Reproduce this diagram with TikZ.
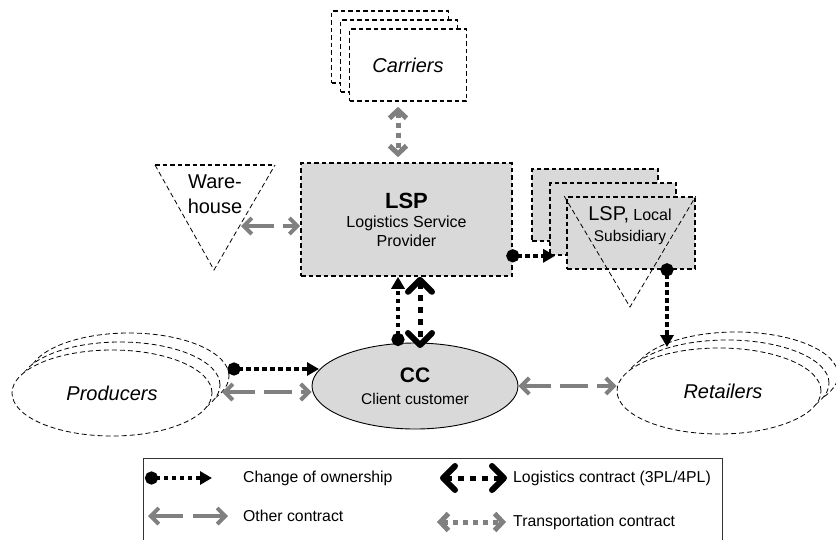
\documentclass[tikz,border=0pt]{standalone}
\usepackage{fontspec}
\setmainfont{Liberation Sans}
\usetikzlibrary{arrows.meta,shapes.geometric}
\definecolor{boxgray}{HTML}{D9D9D9}
\definecolor{arrgray}{HTML}{808080}
\tikzset{
 dbox/.style={rectangle, draw=black, line width=1.6pt, dash pattern=on 4.5pt off 3pt, inner sep=0pt},
 thind/.style={draw=black, line width=0.8pt, dash pattern=on 5pt off 3pt},
 ell/.style={ellipse, thind, fill=white, inner sep=0pt},
 owner/.style={draw=black, line width=4.5pt, dash pattern=on 4.5pt off 3.5pt, {Circle[length=13pt]}-{Triangle[length=12pt,width=13pt]}},
 other/.style={draw=arrgray, line width=4pt, dash pattern=on 28pt off 9pt, {Straight Barb[length=8pt,width=16pt]}-{Straight Barb[length=8pt,width=16pt]}},
 logi/.style={draw=black, line width=5pt, dash pattern=on 6pt off 6pt, {Straight Barb[length=12pt,width=24pt,line width=6pt,round]}-{Straight Barb[length=12pt,width=24pt,line width=6pt,round]}},
 transp/.style={draw=arrgray, line width=5pt, dash pattern=on 5pt off 5pt, {Straight Barb[length=8pt,width=17pt,line width=5pt]}-{Straight Barb[length=8pt,width=17pt,line width=5pt]}},
 big/.style={font=\fontsize{20}{24}\selectfont},
 leg/.style={anchor=west, font=\fontsize{15.8}{19}\selectfont, inner sep=0pt},
}
\begin{document}
\begin{tikzpicture}[x=1pt,y=-1pt]
\useasboundingbox (0,0) rectangle (836,539);
% Carriers
\node[dbox, fill=white, minimum width=117pt, minimum height=72pt] (car3) at (390,47) {};
\node[dbox, fill=white, minimum width=117pt, minimum height=72pt] (car2) at (399,56) {};
\node[dbox, fill=white, minimum width=117pt, minimum height=72pt, big] (car) at (408,65) {\itshape Carriers};
% LSP
\node[dbox, fill=boxgray, minimum width=211pt, minimum height=113pt, align=center, font=\fontsize{16}{19}\selectfont] (lsp) at (406.5,219.5)
  {{\fontsize{22}{26}\selectfont\bfseries LSP}\\Logistics Service\\Provider};
% Warehouse
\coordinate (whl) at (155,165);
\coordinate (whr) at (275,165);
\coordinate (wha) at (214,270);
\draw[line width=1.6pt, dash pattern=on 4.5pt off 3pt] (whl) -- (whr);
\draw[thind] (whl) -- (wha) -- (whr);
\node[align=center, font=\fontsize{20}{25}\selectfont, inner sep=0pt] (wh) at (215,194) {Ware-\\house};
% Subsidiaries
\node[dbox, fill=boxgray, minimum width=126pt, minimum height=72pt] (sub3) at (595,205) {};
\node[dbox, fill=boxgray, minimum width=126pt, minimum height=72pt] (sub2) at (613,219) {};
\node[dbox, fill=boxgray, minimum width=128pt, minimum height=72pt] (sub) at (631,233) {};
\coordinate (sta) at (630,307);
\draw[thind] ([xshift=-2pt]sub.north west) -- (sta) -- (sub.north east);
\node[align=center, font=\fontsize{15.5}{21}\selectfont, inner sep=0pt] (subt) at (630,226)
  {{\fontsize{20}{22}\selectfont LSP,} {\fontsize{16}{19}\selectfont Local}\\Subsidiary};
% Producers
\node[ell, minimum width=200pt, minimum height=86pt] (prod3) at (129,376) {};
\node[ell, minimum width=200pt, minimum height=86pt] (prod2) at (120,385) {};
\node[ell, minimum width=200pt, minimum height=86pt, big] (prod) at (112,393) {\itshape Producers};
% Retailers
\node[ell, minimum width=204pt, minimum height=86pt] (ret3) at (736,375) {};
\node[ell, minimum width=204pt, minimum height=86pt] (ret2) at (727,383) {};
\node[ell, minimum width=204pt, minimum height=86pt, big] (ret) at (719,391) {\hspace*{8pt}\itshape Retailers};
% CC
\node[ellipse, draw=black, line width=0.9pt, fill=boxgray, minimum width=206pt, minimum height=86pt, inner sep=0pt, align=center, font=\fontsize{15.5}{22}\selectfont] (cc) at (415,386)
  {{\fontsize{21}{24}\selectfont\bfseries CC}\\Client customer};
% connector coordinates
\coordinate (wharr) at (241,226);
\coordinate (pdot) at (234,369);
\coordinate (ccin) at (319,369);
\coordinate (pother) at (222,392);
\coordinate (ccdot) at (398,346);
\coordinate (cclog) at (420,348);
\coordinate (rettop) at (667,347);
% connectors
\draw[transp, shorten <=5pt, shorten >=5pt] ([xshift=-10pt]car.south) -- ([xshift=-8.5pt]lsp.north);
\draw[other] (wharr) -- (wharr -| lsp.west);
\draw[owner, shorten <=-6.5pt] (lsp.east |- sub2.south) -- ([xshift=6pt]sub2.south west);
\draw[owner, shorten <=-6.5pt] ([xshift=36pt]sub.south) -- (rettop);
\draw[owner, shorten <=-6.5pt] (pdot) -- (ccin);
\draw[other] (pother) -- (pother -| cc.west);
\draw[other] (cc.east) -- (cc.east -| ret.west);
\draw[owner] (ccdot) -- (ccdot |- lsp.south);
\draw[logi] ([xshift=13.5pt]lsp.south) -- (cclog);
% Legend
\node[draw=black!80, line width=1.1pt, minimum width=579pt, minimum height=95pt, anchor=north west, inner sep=0pt] (legend) at (143,458) {};
\coordinate (l1a) at (145,478);
\coordinate (l1b) at (212,478);
\coordinate (l2a) at (440,478);
\coordinate (l2b) at (507,478);
\coordinate (l3a) at (148,516);
\coordinate (l3b) at (228,516);
\coordinate (l4a) at (437,522);
\coordinate (l4b) at (506,522);
\draw[owner] (l1a) -- (l1b);
\draw[logi] (l2a) -- (l2b);
\draw[other, dash pattern=on 30pt off 10pt] (l3a) -- (l3b);
\draw[transp] (l4a) -- (l4b);
\node[leg] (t1) at (243,478) {Change of ownership};
\node[leg] (t2) at (513,478) {Logistics contract (3PL/4PL)};
\node[leg] (t3) at (243,516) {Other contract};
\node[leg] (t4) at (513,522) {Transportation contract};
\end{tikzpicture}
\end{document}
